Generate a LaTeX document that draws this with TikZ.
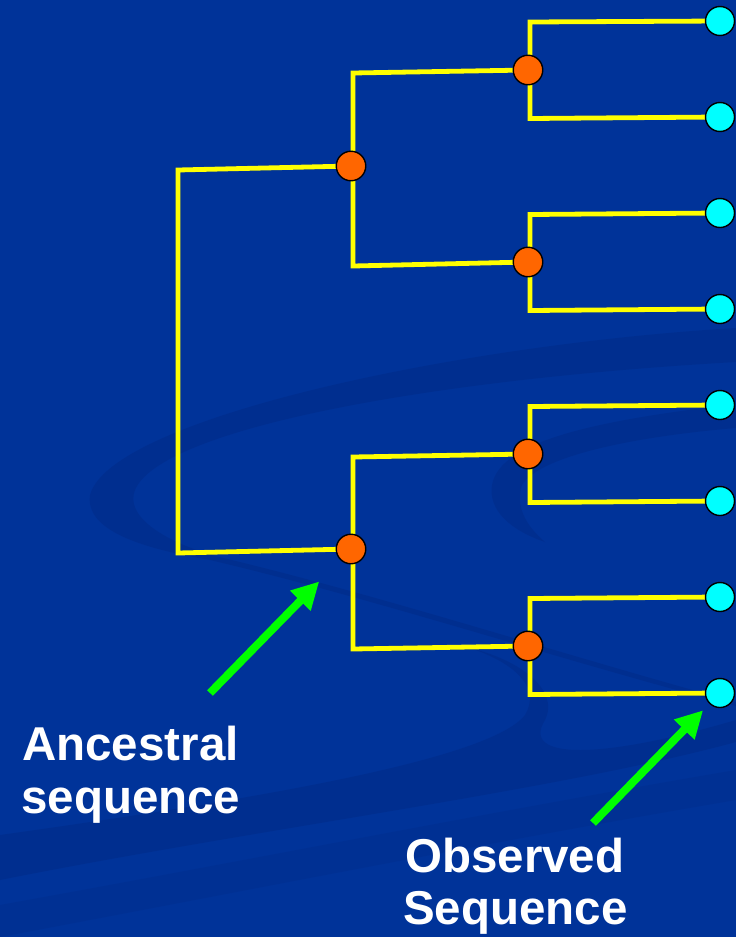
\documentclass[tikz,border=0pt]{standalone}
\usepackage{fontspec}
\setmainfont{Liberation Sans}
\usetikzlibrary{arrows.meta}

\pgfdeclarelayer{back}
\pgfdeclarelayer{edges}
\pgfsetlayers{back,edges,main}

\definecolor{slide}{RGB}{0,51,153}
\definecolor{swirl}{RGB}{0,42,134}
\definecolor{branchyellow}{RGB}{255,255,0}
\definecolor{innernode}{RGB}{255,102,0}
\definecolor{tipnode}{RGB}{0,255,255}
\definecolor{pointgreen}{RGB}{0,255,0}

\tikzset{
  branch/.style={draw=branchyellow, line width=4.8pt, line join=miter},
  leafnode/.style={circle, draw=black, line width=1.4pt, fill=tipnode,
    minimum size=29pt, inner sep=0pt},
  ancnode/.style={circle, draw=black, line width=1.4pt, fill=innernode,
    minimum size=29.5pt, inner sep=0pt},
  pointer/.style={draw=pointgreen, line width=8pt,
    -{Triangle[length=27pt,width=27pt]}},
  caption/.style={text=white, inner sep=0pt, anchor=base west,
    font=\fontsize{47.5}{53}\selectfont\bfseries},
  band/.style={fill=swirl, draw=none, opacity=0.5}
}

\begin{document}
\begin{tikzpicture}[x=1pt,y=-1pt]
\useasboundingbox (0,0) rectangle (736,937);

\begin{pgfonlayer}{back}
  \fill[slide] (0,0) rectangle (736,937);
  % upper swirl ring with its thin tail
  \fill[band] (736,328) .. controls (450,345) and (110,420) .. (90,495)
      .. controls (85,530) and (140,548) .. (210,560)
      .. controls (380,600) and (560,660) .. (736,706)
      -- (736,702)
      .. controls (560,654) and (380,595) .. (215,556)
      .. controls (160,540) and (125,515) .. (135,490)
      .. controls (160,430) and (420,380) .. (736,362) -- cycle;
  % inner swirl on the right
  \fill[band] (736,404) .. controls (600,420) and (500,440) .. (492,485)
      .. controls (488,510) and (510,530) .. (545,542)
      .. controls (525,525) and (515,505) .. (522,485)
      .. controls (540,455) and (640,436) .. (736,428) -- cycle;
  % lower swirl sweeping to the left
  \fill[band] (470,648) .. controls (520,665) and (540,690) .. (525,715)
      .. controls (490,760) and (250,800) .. (0,835)
      -- (0,880)
      .. controls (250,830) and (560,790) .. (736,742)
      -- (736,720)
      .. controls (600,760) and (520,760) .. (545,720)
      .. controls (560,690) and (520,660) .. (470,648) -- cycle;
  % faint diagonal band at the bottom
  \fill[band, opacity=0.3] (0,905) .. controls (250,860) and (500,810) .. (736,770)
      -- (736,800) .. controls (500,840) and (250,890) .. (0,937) -- cycle;
\end{pgfonlayer}

% observed sequences
\node[leafnode] (L1) at (720,21) {};
\node[leafnode] (L2) at (720,117) {};
\node[leafnode] (L3) at (720,213) {};
\node[leafnode] (L4) at (720,309) {};
\node[leafnode] (L5) at (720,405) {};
\node[leafnode] (L6) at (720,501) {};
\node[leafnode] (L7) at (720,597) {};
\node[leafnode] (L8) at (720,693) {};

% ancestral sequences
\node[ancnode] (A1) at (528,70) {};
\node[ancnode] (A2) at (528,262) {};
\node[ancnode] (A3) at (528,454) {};
\node[ancnode] (A4) at (528,646) {};
\node[ancnode] (B1) at (351,166) {};
\node[ancnode] (B2) at (351,549) {};

\begin{pgfonlayer}{edges}
  \draw[branch] (L1.center) -- (530,22) -- (530,118.5) -- (L2.center);
  \draw[branch] (L3.center) -- (530,214.5) -- (530,310.5) -- (L4.center);
  \draw[branch] (L5.center) -- (530,406.5) -- (530,502.5) -- (L6.center);
  \draw[branch] (L7.center) -- (530,598.5) -- (530,694.5) -- (L8.center);
  \draw[branch] (A1.center) -- (353,73) -- (353,266) -- (A2.center);
  \draw[branch] (A3.center) -- (353,457) -- (353,649) -- (A4.center);
  \draw[branch] (B1.center) -- (178,170) -- (178,553) -- (B2.center);
\end{pgfonlayer}

% pointers and captions
\coordinate (ancTail) at (210,693);
\coordinate (obsTail) at (593,823);
\draw[pointer, shorten >=30pt] (ancTail) -- (B2);
\draw[pointer, shorten >=9pt] (obsTail) -- (L8);

\node[caption] (anc1) at (22,760) {Ancestral};
\node[caption] (anc2) at (21,813) {sequence};
\node[caption] (obs1) at (405,872) {Observed};
\node[caption] (obs2) at (403,924) {Sequence};
\end{tikzpicture}
\end{document}
